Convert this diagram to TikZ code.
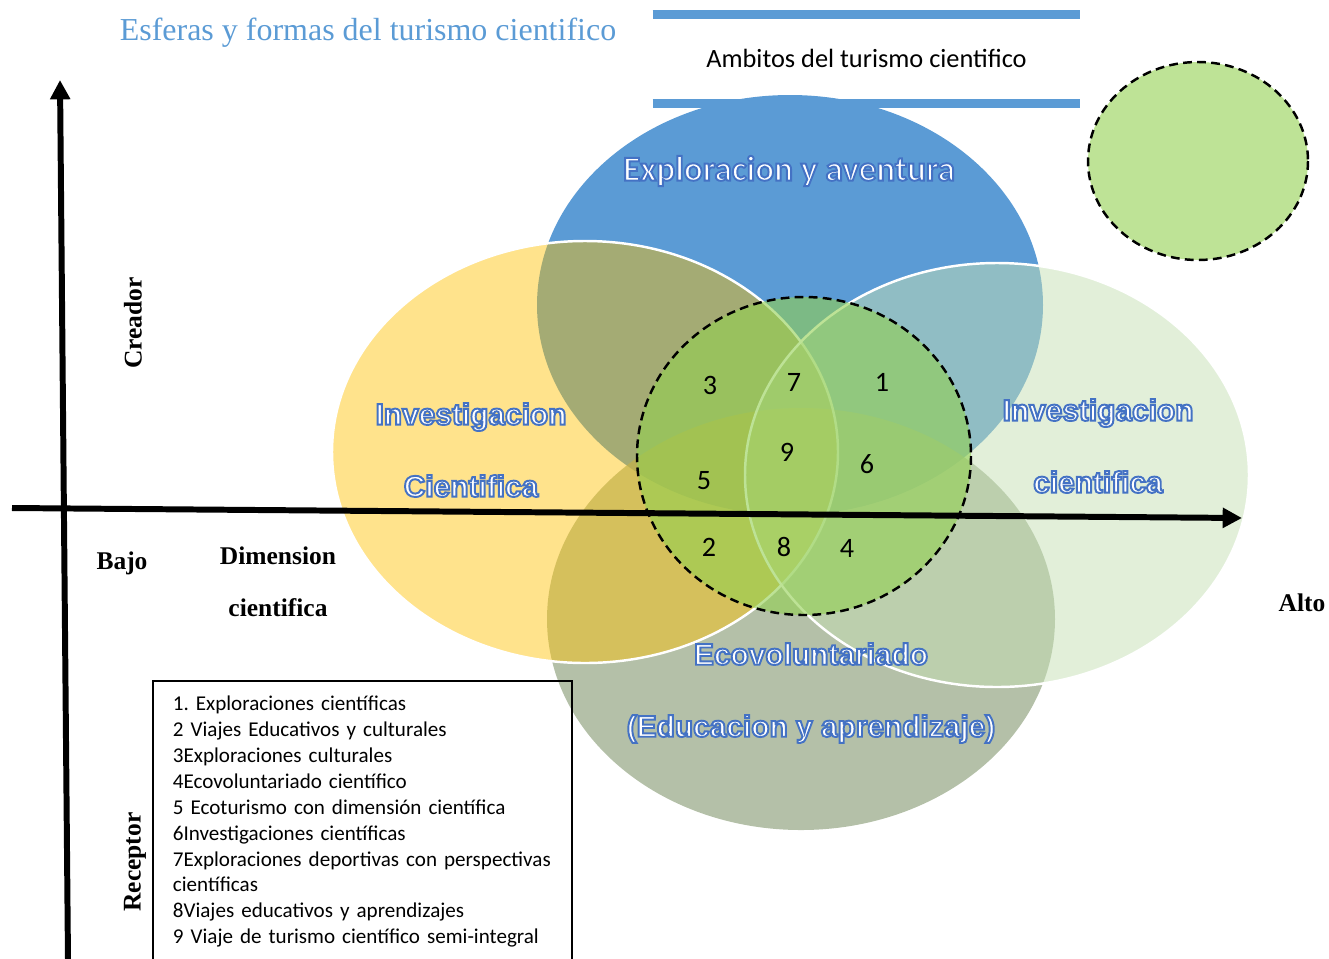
\documentclass[tikz,border=0pt]{standalone}
\usepackage{fontspec}
\setmainfont{Carlito}
\newfontfamily\serifb{Liberation Serif}
\newfontfamily\arialf{Liberation Sans}
\usetikzlibrary{arrows.meta,shapes.geometric}
\definecolor{blueA}{HTML}{5B9BD5}
\definecolor{yelA}{HTML}{FFC000}
\definecolor{grnL}{HTML}{C5E0B4}
\definecolor{botA}{RGB}{148,165,131}
\definecolor{grnD}{HTML}{92D050}
\definecolor{ob}{HTML}{4472C4}
\frenchspacing
% outlined text: fill (current colour) + blue stroke via PDF text render mode
\newcommand\outl[1]{\special{pdf:literal direct 2 Tr 1.1 w 0.267 0.447 0.769 RG}#1\special{pdf:literal direct 0 Tr}}
\tikzset{
  axisline/.style={line width=3.4pt,-{Triangle[length=11pt,width=11pt]}},
  dashring/.style={draw=black,line width=1.4pt,dash pattern=on 5pt off 3pt,fill=grnD,fill opacity=.6},
  bar/.style={draw=blueA,line width=5pt},
  num/.style={font=\fontsize{16}{18}\selectfont,inner sep=0pt},
  axlab/.style={font=\serifb\bfseries\fontsize{14.5}{17}\selectfont,inner sep=0pt},
  sphere/.style={font=\arialf\bfseries\fontsize{17}{41}\selectfont,text=white,align=center,inner sep=0pt},
}
\begin{document}
\begin{tikzpicture}[x=0.02cm,y=-0.02cm]
\clip (0,0) rectangle (1329,958);
% spheres
\fill[blueA] (790,305) ellipse [x radius=253, y radius=210];
\fill[botA,fill opacity=.7] (801,619) ellipse [x radius=254, y radius=211];
\filldraw[fill=yelA,fill opacity=.45,draw=white,line width=1.4pt] (585,452) ellipse [x radius=253, y radius=211];
\filldraw[fill=grnL,fill opacity=.5,draw=white,line width=1.4pt] (997,475) ellipse [x radius=252, y radius=212];
\path[dashring] (804,456) ellipse [x radius=167, y radius=159];
\path[dashring] (1198,161) ellipse [x radius=110, y radius=99];
% axes
\coordinate (vb) at (68,960);
\coordinate (vt) at (60,80);
\coordinate (hl) at (12,508);
\coordinate (hr) at (1242,518);
\draw[axisline] (vb) -- (vt);
\draw[axisline] (hl) -- (hr);
% title and header
\node[font=\serifb\fontsize{18.2}{20}\selectfont,text=blueA,inner sep=0pt] (title) at (368,33) {Esferas y formas del turismo cientifico};
\node[minimum width=8.54cm,minimum height=1.77cm,inner sep=0pt,font=\fontsize{15}{18}\selectfont] (amb) at (866.5,58.7) {Ambitos del turismo cientifico};
\draw[bar] (amb.north west) -- (amb.north east);
\draw[bar] (amb.south west) -- (amb.south east);
% sphere labels
\node[font=\bfseries\fontsize{20}{24}\selectfont,text=white,inner sep=0pt] (expl) at (789,171) {\outl{Exploracion y aventura}};
\node[sphere] (invl) at (471,450) {\outl{Investigacion}\\\outl{Cientifica}};
\node[sphere] (invr) at (1098,446) {\outl{Investigacion}\\\outl{cientifica}};
\node[sphere] (eco) at (811,693) {\outl{Ecovoluntariado}\\\outl{(Educacion y aprendizaje)}};
% numbers
\node[num] (n3) at (710,385) {3};
\node[num] (n7) at (794,382) {7};
\node[num] (n1) at (882,382) {1};
\node[num] (n9) at (787,452) {9};
\node[num] (n6) at (867,464) {6};
\node[num] (n5) at (704,481) {5};
\node[num] (n2) at (709,547) {2};
\node[num] (n8) at (784,547) {8};
\node[num] (n4) at (847,548) {4};
% axis labels
\node[axlab,rotate=90] (creador) at (133,323) {Creador};
\node[axlab,rotate=90] (receptor) at (135,862) {Receptor};
\node[axlab] (bajo) at (122,563) {Bajo};
\node[axlab,align=center,font=\serifb\bfseries\fontsize{14.5}{29.5}\selectfont] (dim) at (278,582) {Dimension\\cientifica};
\node[axlab] (alto) at (1302,603) {Alto};
% legend
\node[draw=black,line width=1.2pt,anchor=north west,text width=216pt,inner xsep=11.3pt,inner ysep=8.5pt,align=left,font=\fontsize{12}{14.74}\selectfont] (legend) at (152,680) {1. Exploraciones científicas\\2 Viajes Educativos y culturales\\3Exploraciones culturales\\4Ecovoluntariado científico\\5 Ecoturismo con dimensión científica\\6Investigaciones científicas\\7Exploraciones deportivas con perspectivas\\científicas\\8Viajes educativos y aprendizajes\\9 Viaje de turismo científico semi-integral};
\end{tikzpicture}
\end{document}
